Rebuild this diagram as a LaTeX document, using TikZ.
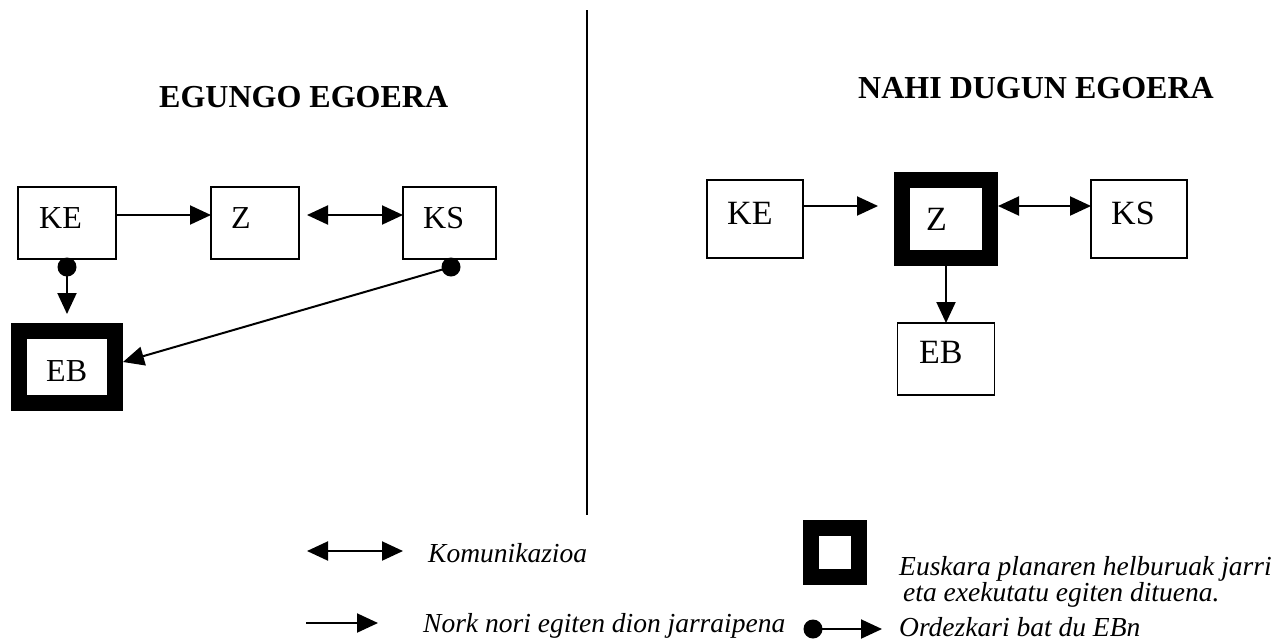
\documentclass[tikz,border=0pt]{standalone}
\usepackage{fontspec}
\setmainfont{Liberation Serif}
\usetikzlibrary{arrows.meta}
\begin{document}
\begin{tikzpicture}[x=1pt,y=-1pt,
  box/.style={draw, line width=1.6pt, rectangle, inner sep=0pt, outer sep=0pt},
  thickbox/.style={draw, line width=16pt, rectangle, inner sep=0pt},
  lbl/.style={anchor=base west, inner sep=0pt, font=\fontsize{32}{38}\selectfont},
  lblr/.style={anchor=base west, inner sep=0pt, font=\fontsize{34}{40}\selectfont},
  head/.style={anchor=base west, inner sep=0pt, font=\fontsize{32}{38}\selectfont\bfseries},
  legtxt/.style={anchor=base west, inner sep=0pt, font=\fontsize{27.5}{33}\selectfont\itshape},
  arr/.style={line width=2pt, -{Triangle[length=21pt,width=19pt]}},
  darr/.style={line width=2pt, {Triangle[length=21pt,width=19pt]}-{Triangle[length=21pt,width=19pt]}},
  dot/.style={circle, fill=black, minimum size=19pt, inner sep=0pt}
]
\useasboundingbox (0,0) rectangle (1281,641);
\fill[white] (0,0) rectangle (1281,641);

% divider
\coordinate (vtop) at (587,10);
\coordinate (vbot) at (587,515);
\draw[line width=2pt] (vtop) -- (vbot);

% headings
\node[head] (h1) at (159,107) {EGUNGO EGOERA};
\node[head] (h2) at (858,98) {NAHI DUGUN EGOERA};

% ---------- left diagram ----------
\node[box, minimum width=98pt, minimum height=72pt] (KE1) at (67,223) {};
\node[box, minimum width=88pt, minimum height=72pt] (Z1) at (255,223) {};
\node[box, minimum width=93pt, minimum height=72pt] (KS1) at (449.5,223) {};
\node[thickbox, minimum width=96pt, minimum height=72pt] (EB1) at (67,367) {};
\node[lbl] (KE1t) at (39,228) {KE};
\node[lbl] (Z1t) at (231,228) {Z};
\node[lbl] (KS1t) at (423,228) {KS};
\node[lbl] (EB1t) at (46,381) {EB};

\draw[arr] ([yshift=8pt]KE1.east) -- ([yshift=8pt]Z1.west);
\draw[darr] ([xshift=8pt,yshift=8pt]Z1.east) -- ([yshift=8pt]KS1.west);
\node[dot] (d1) at (67,267) {};
\node[dot] (d2) at (451,267) {};
\draw[arr] (d1.center) -- ([yshift=9pt]EB1.north);
\draw[arr] (d2.center) -- ([yshift=5pt]EB1.east);

% ---------- right diagram ----------
\node[box, minimum width=96pt, minimum height=78pt] (KE2) at (755,219) {};
\node[thickbox, minimum width=88pt, minimum height=78pt] (Z2) at (946,219) {};
\node[box, minimum width=96pt, minimum height=78pt] (KS2) at (1139,219) {};
\node[box, minimum width=97pt, minimum height=72pt] (EB2) at (946,359) {};
\node[lblr] (KE2t) at (727,224) {KE};
\node[lblr] (Z2t) at (926,230) {Z};
\node[lblr] (KS2t) at (1111,224) {KS};
\node[lblr] (EB2t) at (919,363) {EB};

\draw[arr] ([yshift=13pt]KE2.east) -- ([xshift=-16pt,yshift=13pt]Z2.west);
\draw[darr] ([yshift=13pt]Z2.east) -- ([yshift=13pt]KS2.west);
\draw[arr] (Z2.south) -- (EB2.north);

% ---------- legend ----------
\coordinate (k1) at (307,551);
\coordinate (k2) at (403,551);
\draw[darr] (k1) -- (k2);
\node[legtxt] (kt) at (428,562) {Komunikazioa};

\coordinate (n1) at (306,623);
\coordinate (n2) at (378,623);
\draw[arr] (n1) -- (n2);
\node[legtxt] (nt) at (423,632) {Nork nori egiten dion jarraipena};

\node[thickbox, minimum width=48pt, minimum height=49pt] (sq) at (835,552) {};
\node[legtxt] (et1) at (899,575) {Euskara planaren helburuak jarri};
\node[legtxt] (et2) at (903,601) {eta exekutatu egiten dituena.};

\node[dot] (d3) at (813,629) {};
\coordinate (o2) at (882,629);
\draw[arr] (d3.center) -- (o2);
\node[legtxt] (ot) at (899,636) {Ordezkari bat du EBn};
\end{tikzpicture}
\end{document}
